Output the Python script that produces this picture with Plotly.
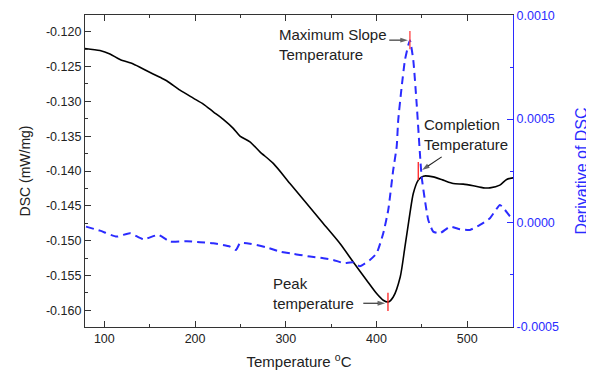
import plotly.graph_objects as go

# ---- data ----
dsc_temp = [78.7, 95.2, 106.2, 117.3, 131.9, 146.7, 161.3, 168.7, 183.4, 198.0, 209.1, 220.1,
            231.1, 242.1, 249.5, 260.5, 271.5, 286.2, 304.6, 323.0, 341.3, 359.7, 374.3, 389.1,
            400.1, 407.4, 412.9, 418.4, 426.1, 431.3, 436.8, 440.5, 446.0, 451.5, 462.5, 473.5,
            484.5, 495.5, 506.6, 517.6, 524.9, 535.9, 543.4, 550.6]
dsc_val = [-0.1224, -0.1227, -0.1232, -0.1240, -0.12464, -0.12561, -0.12655, -0.12704, -0.12838,
           -0.12953, -0.13039, -0.13150, -0.13259, -0.13388, -0.13499, -0.13581, -0.13725, -0.13891,
           -0.14179, -0.14466, -0.14754, -0.15041, -0.15306, -0.15569, -0.15760, -0.15856, -0.15880,
           -0.15809, -0.15521, -0.15090, -0.14610, -0.14323, -0.14131, -0.14074, -0.14084, -0.14131,
           -0.14179, -0.14189, -0.14213, -0.14242, -0.14242, -0.14203, -0.14121, -0.14098]

deriv_temp = [79.8, 95.2, 113.6, 128.3, 142.9, 159.5, 172.4, 190.8, 205.4, 220.1, 238.5, 245.1,
              249.5, 260.5, 278.9, 293.6, 308.3, 315.6, 326.7, 341.4, 352.4, 363.3, 374.3, 381.7,
              392.7, 400.1, 407.4, 412.9, 418.4, 422.2, 423.9, 427.7, 431.3, 435.0, 436.8, 440.5,
              444.2, 447.8, 449.7, 453.3, 457.0, 462.5, 469.9, 480.9, 491.9, 502.9, 514.0, 525.0,
              536.0, 541.5, 547.0, 551.4]
deriv_val = [-0.0000178, -0.0000371, -0.0000659, -0.0000496, -0.0000784, -0.0000578, -0.0000900,
             -0.0000880, -0.0000929, -0.0000977, -0.0001140, -0.0001300, -0.0000977, -0.0001000,
             -0.0001180, -0.0001380, -0.0001490, -0.0001540, -0.0001620, -0.0001700, -0.0001780,
             -0.0001930, -0.0001900, -0.0002080, -0.0001780, -0.0001460, -0.0000496, 0.0000624,
             0.0002550, 0.0003670, 0.0004950, 0.0006550, 0.0007840, 0.0008560, 0.0008800,
             0.0007840, 0.0005750, 0.0003350, 0.0002230, 0.0001100, 0.0000144, -0.0000419,
             -0.0000496, -0.0000178, -0.0000303, -0.0000337, -0.0000096, 0.0000226, 0.0000865,
             0.0000626, 0.0000323, 0.0000135]

# characteristic points
peak_t, peak_v = 412.6, -0.1588
slope_t, slope_v = 436.8, 0.00088
compl_t, compl_v = 446.0, -0.1400

# annotation arrows: (tail x, tail y) -> (head x, head y)
slope_arrow_x = [414.0, 434.6]
slope_arrow_y = [0.00088, 0.00088]
peak_arrow_x = [385.4, 409.5]
peak_arrow_y = [-0.15899, -0.15899]
compl_arrow_x = [471.8, 450.2]
compl_arrow_y = [-0.13797, -0.13985]

left_ticks = [-0.120, -0.125, -0.130, -0.135, -0.140, -0.145, -0.150, -0.155, -0.160]
left_ticktext = ["-0.120", "-0.125", "-0.130", "-0.135", "-0.140", "-0.145", "-0.150", "-0.155", "-0.160"]
right_ticks = [0.0010, 0.0005, 0.0, -0.0005]
right_ticktext = ["0.0010", "0.0005", "0.0000", "-0.0005"]
x_ticks = [100, 200, 300, 400, 500]

BLUE = "#2b2bff"
FONT = "Liberation Sans, Arial, sans-serif"
TXT = "#222222"

fig = go.Figure()
fig.add_trace(go.Scatter(x=deriv_temp, y=deriv_val, yaxis="y2", mode="lines",
                         line=dict(color=BLUE, width=2, dash="8px,5px", shape="spline", smoothing=0.5),
                         showlegend=False))
fig.add_trace(go.Scatter(x=dsc_temp, y=dsc_val, mode="lines",
                         line=dict(color="black", width=1.6, shape="spline", smoothing=0.7),
                         showlegend=False))
fig.add_trace(go.Scatter(x=[peak_t, compl_t], y=[peak_v, compl_v], mode="markers",
                         marker=dict(symbol="line-ns", size=13, line=dict(color="#ff2020", width=1.3)),
                         showlegend=False))
fig.add_trace(go.Scatter(x=[slope_t], y=[slope_v], yaxis="y2", mode="markers",
                         marker=dict(symbol="line-ns", size=13, line=dict(color="#ff4040", width=1.3)),
                         showlegend=False))

# arrows drawn as line + arrow-head marker
arrow_marker = dict(symbol="arrow", angleref="previous", size=[0, 8], color="#222222",
                    line=dict(width=0))
for ax_, ay_, yax in [(slope_arrow_x, slope_arrow_y, "y2"),
                      (peak_arrow_x, peak_arrow_y, "y"),
                      (compl_arrow_x, compl_arrow_y, "y")]:
    fig.add_trace(go.Scatter(x=ax_, y=ay_, yaxis=yax, mode="lines+markers",
                             line=dict(color="#222222", width=1.1), marker=arrow_marker,
                             showlegend=False, hoverinfo="skip"))

ann = []
ann.append(dict(x=290.3, y=-0.12177, xref="x", yref="y", text="Maximum Slope<br>Temperature",
                showarrow=False, xanchor="left", yanchor="middle", align="left"))
ann.append(dict(x=283.7, y=-0.15755, xref="x", yref="y", text="Peak<br>temperature",
                showarrow=False, xanchor="left", yanchor="middle", align="left"))
ann.append(dict(x=449.7, y=-0.13473, xref="x", yref="y", text="Completion<br>Temperature",
                showarrow=False, xanchor="left", yanchor="middle", align="left"))
for a in ann:
    a["font"] = dict(family=FONT, size=15, color=TXT)

# the page body has an 8px margin, so the figure is sized to fit the 594x378 window
fig.update_layout(
    width=586, height=362,
    margin=dict(l=77, r=81, t=7, b=43),
    paper_bgcolor="white", plot_bgcolor="white",
    font=dict(family=FONT, size=12.5, color="black"),
    annotations=ann,
    xaxis=dict(range=[78.7, 550.4], tickvals=x_ticks, ticks="inside", ticklen=6, tickwidth=1,
               tickcolor="#333", showline=True, linecolor="#333", linewidth=1.2, mirror="ticks",
               showgrid=False, zeroline=False, automargin=False,
               minor=dict(dtick=50, tick0=0, ticks="inside", ticklen=3, tickcolor="#333", showgrid=False),
               title=dict(text="Temperature <sup>o</sup>C", font=dict(size=15, family=FONT, color=TXT),
                          standoff=17),
               tickfont=dict(size=12.5, color=TXT)),
    yaxis=dict(range=[-0.1624, -0.1176], tickvals=left_ticks, ticktext=left_ticktext,
               ticks="inside", ticklen=6, tickcolor="#333", showline=True, linecolor="#333",
               linewidth=1.2, showgrid=False, zeroline=False, automargin=False,
               minor=dict(dtick=0.0025, tick0=0, ticks="inside", ticklen=3, tickcolor="#333", showgrid=False),
               title=dict(text="DSC (mW/mg)", font=dict(size=14, family=FONT, color=TXT), standoff=12),
               tickfont=dict(size=12.5, color=TXT)),
    yaxis2=dict(range=[-0.000501, 0.001001], overlaying="y", side="right", tickvals=right_ticks,
                ticktext=right_ticktext, ticks="inside", ticklen=6, tickcolor=BLUE, showline=True,
                linecolor=BLUE, linewidth=1.2, showgrid=False, zeroline=False, automargin=False,
                minor=dict(dtick=0.00025, tick0=0, ticks="inside", ticklen=3, tickcolor=BLUE, showgrid=False),
                title=dict(text="Derivative of DSC", font=dict(size=16, family=FONT, color=BLUE), standoff=17),
                tickfont=dict(size=12.5, color=BLUE)),
)

fig.write_html("out.html")
